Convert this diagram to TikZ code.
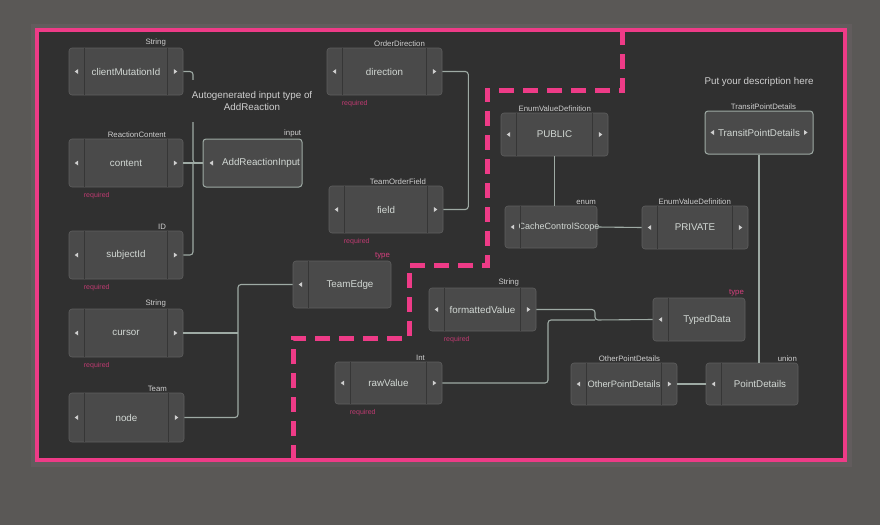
\documentclass[tikz,border=0pt]{standalone}
\usepackage{fontspec}
\setmainfont{Liberation Sans}
\usepackage{tikz}
\usetikzlibrary{calc}
\usepackage{xcolor}

\definecolor{outerbg}{HTML}{5A5856}
\definecolor{halo}{HTML}{625C5D}
\definecolor{panel}{HTML}{303030}
\definecolor{boxfill}{HTML}{4A4A4A}
\definecolor{boxedge}{HTML}{5E5E5E}
\definecolor{divcol}{HTML}{363636}
\definecolor{nodetext}{HTML}{D2D8D4}
\definecolor{labeltext}{HTML}{CFCFCF}
\definecolor{wirecol}{HTML}{9EAAA4}
\definecolor{hotpink}{HTML}{EE3B87}
\definecolor{typepink}{HTML}{D8407F}
\definecolor{reqpink}{HTML}{BF3A71}

% field with arrows on both sides
\newcommand{\fieldbox}[6]{%
  \node[fbox, minimum width=#3, minimum height=#4] (#1) at (#2) {#5};
  \draw[divider] ([xshift=16pt]#1.north west) -- ([xshift=16pt]#1.south west);
  \draw[divider] ([xshift=-16pt]#1.north east) -- ([xshift=-16pt]#1.south east);
  \fill[tip] ([xshift=6pt]#1.west) -- ++(3.5,-2.5) -- ++(0,5) -- cycle;
  \fill[tip] ([xshift=-6pt]#1.east) -- ++(-3.5,-2.5) -- ++(0,5) -- cycle;
  \node[typelbl] (#1-type) at ([xshift=-16pt]#1.north east) {#6};
}
% type with an arrow on the left only
\newcommand{\typebox}[6]{%
  \node[fbox, minimum width=#3, minimum height=#4] (#1) at (#2) {};
  \node[boxtext] (#1-text) at ($(#1.center)+(8,0)$) {#5};
  \draw[divider] ([xshift=16pt]#1.north west) -- ([xshift=16pt]#1.south west);
  \fill[tip] ([xshift=6pt]#1.west) -- ++(3.5,-2.5) -- ++(0,5) -- cycle;
  \node[typelbl] (#1-type) at (#1.north east) {#6};
}
\newcommand{\req}[1]{%
  \node[req] (#1-req) at ([xshift=15pt,yshift=-8pt]#1.south west) {required};
}

\begin{document}
\begin{tikzpicture}[x=1pt,y=-1pt,
  fbox/.style={rectangle, rounded corners=3pt, fill=boxfill, draw=boxedge,
    line width=0.6pt, text=nodetext, inner sep=0pt, font=\fontsize{9.8}{11}\selectfont},
  inbox/.style={fbox, draw=wirecol, line width=1pt},
  boxtext/.style={text=nodetext, inner sep=0pt, font=\fontsize{9.8}{11}\selectfont},
  divider/.style={divcol, line width=1pt},
  tip/.style={fill=labeltext},
  typelbl/.style={anchor=south east, inner sep=1.2pt, text=labeltext,
    font=\fontsize{7.8}{9}\selectfont},
  req/.style={anchor=west, inner sep=0pt, text=reqpink, font=\fontsize{7}{8}\selectfont},
  desc/.style={text=labeltext, align=center, inner sep=0pt,
    font=\fontsize{9.8}{12}\selectfont},
  wire/.style={wirecol, line width=1.1pt, rounded corners=3pt},
  pinkdash/.style={hotpink, line width=5pt, dash pattern=on 15pt off 9pt},
  pinkline/.style={hotpink, line width=4pt}]
\useasboundingbox (0,0) rectangle (880,525);
\fill[outerbg] (0,0) rectangle (880,525);
\fill[halo] (31,24) rectangle (852,467);
\fill[panel] (37,30) rectangle (845,460);

\draw[pinkdash] (622,30) -- (622,90) -- (487,90) -- (487,265) -- (409,265)
  -- (409,338) -- (293,338) -- (293,460);

\coordinate (busA) at (193,163);
\coordinate (busT) at (238,333);
\coordinate (busD) at (595,320);

\fieldbox{cmid}{126,71.5}{114}{47}{clientMutationId}{String}
\fieldbox{content}{126,163}{114}{48}{content}{ReactionContent}
\fieldbox{subj}{126,255}{114}{48}{subjectId}{ID}
\fieldbox{cursor}{126,333}{114}{48}{cursor}{String}
\fieldbox{tnode}{126.5,417.5}{115}{49}{node}{Team}
\fieldbox{dir}{384.5,71.5}{115}{47}{direction}{OrderDirection}
\fieldbox{field}{386,209.5}{114}{47}{field}{TeamOrderField}
\fieldbox{public}{554.5,134.5}{107}{43}{PUBLIC}{EnumValueDefinition}
\fieldbox{private}{695,227.5}{106}{43}{PRIVATE}{EnumValueDefinition}
\fieldbox{fmt}{482.5,309.5}{107}{43}{formattedValue}{String}
\fieldbox{raw}{388.5,383}{107}{42}{rawValue}{Int}
\fieldbox{other}{624,384}{106}{42}{{\fontsize{9.3}{11}\selectfont OtherPointDetails}}{OtherPointDetails}

\typebox{ccs}{551,227}{92}{42}{{\fontsize{9}{11}\selectfont CacheControlScope}}{enum}
\typebox{tedge}{342,284.5}{98}{47}{TeamEdge}{\color{typepink}type}
\typebox{typed}{699,319.5}{92}{43}{TypedData}{\color{typepink}type}
\typebox{point}{752,384}{92}{42}{PointDetails}{union}

\req{content}
\req{subj}
\req{cursor}
\req{dir}
\req{field}
\req{fmt}
\req{raw}

\node[inbox, minimum width=99, minimum height=48] (addin) at (252.5,163) {};
\node[boxtext] (addin-text) at ($(addin.center)+(8.5,0)$) {AddReactionInput};
\fill[tip] ([xshift=7pt]addin.west) -- ++(3.5,-2.5) -- ++(0,5) -- cycle;
\node[typelbl] (addin-type) at (addin.north east) {input};

\node[inbox, minimum width=108, minimum height=43] (transit) at (759,132.5) {TransitPointDetails};
\fill[tip] ([xshift=6pt]transit.west) -- ++(3.5,-2.5) -- ++(0,5) -- cycle;
\fill[tip] ([xshift=-6pt]transit.east) -- ++(-3.5,-2.5) -- ++(0,5) -- cycle;
\node[typelbl] (transit-type) at ([xshift=-16pt]transit.north east) {TransitPointDetails};

\draw[wire] (cmid.east) -| (busA) -- (addin.west);
\draw[wire] (content.east) -- (addin.west);
\draw[wire] (subj.east) -| (busA);
\draw[wire] (dir.east) -| ($(field.east)+(25,0)$) -- (field.east);
\draw[wire] (cursor.east) -- (busT);
\draw[wire] (tnode.east) -| (busT) |- (tedge.west);
\draw[wire] (public.south) -- (public.south |- ccs.north);
\draw[wire] (ccs.east) -- (private.west);
\draw[wire] (fmt.east) -| (busD) -- (typed.west);
\draw[wire] (raw.east) -| ($(busD)+(-47,0)$) -- (busD);
\draw[wire] (transit.south) -- (transit.south |- point.north);
\draw[wire] (other.east) -- (point.west);

\node[desc, fill=panel, minimum width=126, minimum height=42] (addin-desc) at (252,101)
  {Autogenerated input type of\\AddReaction};
\node[desc] (transit-desc) at (759,82) {Put your description here};

\draw[pinkline] (37,30) rectangle (845,460);
\end{tikzpicture}
\end{document}
